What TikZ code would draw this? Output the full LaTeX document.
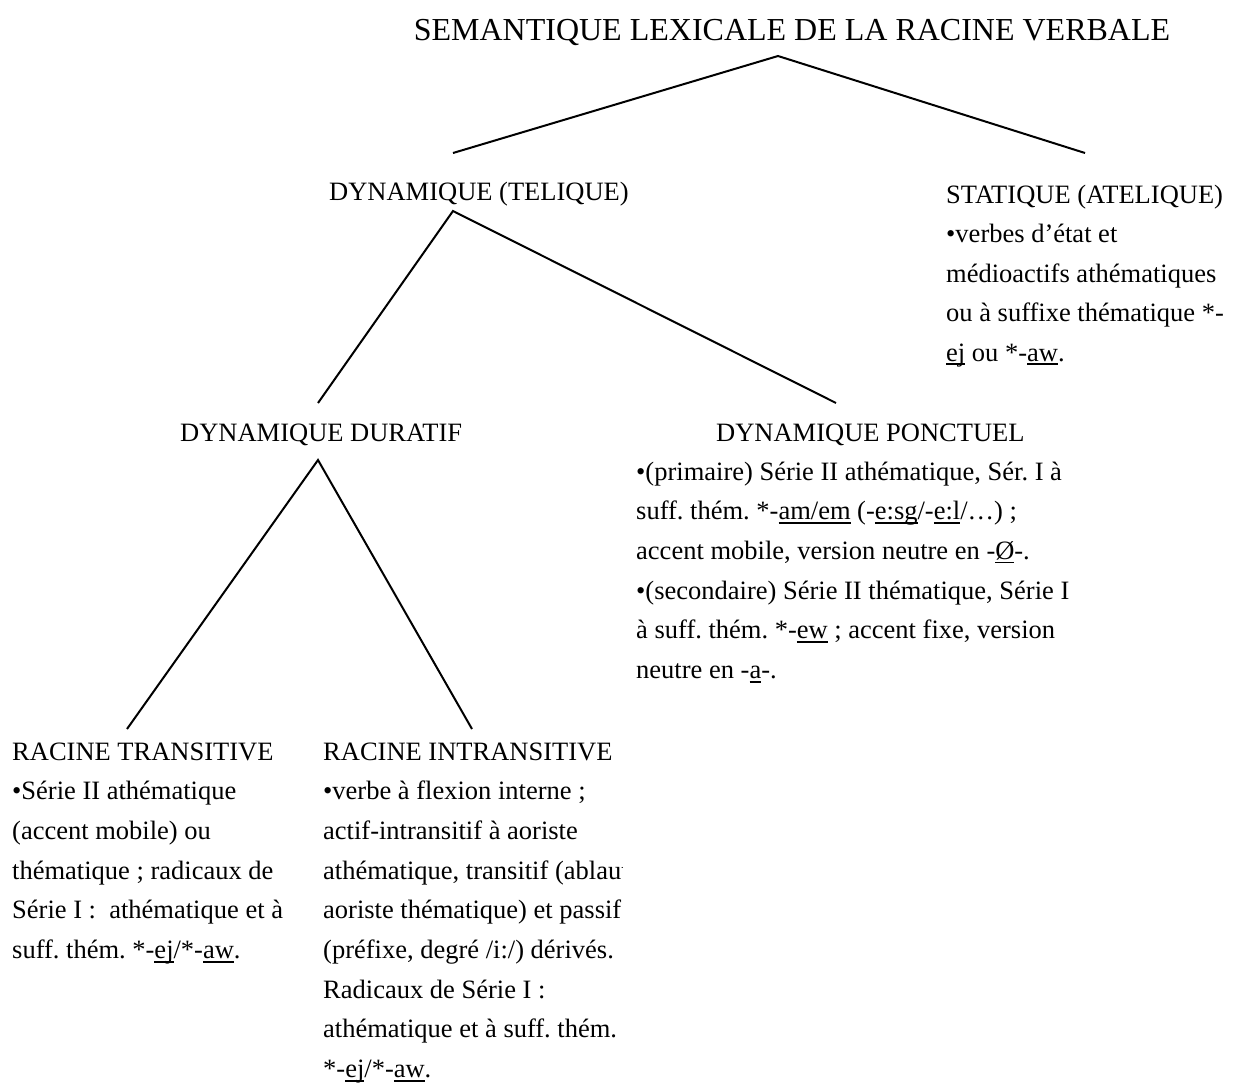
\documentclass[tikz,border=0pt]{standalone}
\usepackage{fontspec}
\setmainfont{Liberation Serif}
\newcommand\undl[1]{\setbox0=\hbox{#1}\rlap{\rule[-4pt]{\wd0}{1.6pt}}\box0\relax}
\tikzset{
  txt/.style={anchor=base west, inner sep=0pt, font=\fontsize{26.5}{39.7}\selectfont\frenchspacing},
  ttl/.style={anchor=base, inner sep=0pt, font=\fontsize{32}{38}\selectfont},
  branch/.style={line width=2pt}
}
\begin{document}
\begin{tikzpicture}[x=1pt,y=-1pt]
\useasboundingbox[fill=white] (0,0) rectangle (1238,1085);
% title
\node[ttl] (title) at (792,40) {SEMANTIQUE LEXICALE DE LA RACINE VERBALE};
% level 1
\node[txt] (dyn) at (329,200) {DYNAMIQUE (TELIQUE)};
\foreach \t [count=\i] in {{STATIQUE (ATELIQUE)},{•verbes d’état et},{médioactifs athématiques},{ou à suffixe thématique *-},{\undl{ej} ou *-\undl{aw}.}}
  \node[txt] (st\i) at (946,{203+(\i-1)*39.5}) {\t};
% level 2
\node[txt] (dur) at (180,441) {DYNAMIQUE DURATIF};
\node[txt] (ponc) at (716,441) {DYNAMIQUE PONCTUEL};
\foreach \t [count=\i] in {{•(primaire) Série II athématique, Sér. I à},{suff. thém. *-\undl{am/em} (-\undl{e:sg}/-\undl{e:l}/…) ;},{accent mobile, version neutre en -\undl{Ø}-.},{•(secondaire) Série II thématique, Série I},{à suff. thém. *-\undl{ew} ; accent fixe, version},{neutre en -\undl{a}-.}}
  \node[txt] (pc\i) at (636,{480+(\i-1)*39.7}) {\t};
% level 3
\foreach \t [count=\i] in {{RACINE TRANSITIVE},{•Série II athématique},{(accent mobile) ou},{thématique ; radicaux de},{Série I :\ \ athématique et à},{suff. thém. *-\undl{ej}/*-\undl{aw}.}}
  \node[txt] (tr\i) at (12,{760+(\i-1)*39.7}) {\t};
\begin{scope}
\clip (0,0) rectangle (622,1085);
\foreach \t [count=\i] in {{RACINE INTRANSITIVE},{•verbe à flexion interne ;},{actif-intransitif à aoriste},{athématique, transitif (ablaut},{aoriste thématique) et passif},{(préfixe, degré /i:/) dérivés.},{Radicaux de Série I :},{athématique et à suff. thém.},{*-\undl{ej}/*-\undl{aw}.}}
  \node[txt] (in\i) at (323,{760+(\i-1)*39.7}) {\t};
\end{scope}
% connector points
\coordinate (a0) at (778,56);
\coordinate (a1) at (453,153);
\coordinate (a2) at (1085,153);
\coordinate (b0) at (453,211);
\coordinate (b1) at (318,403);
\coordinate (b2) at (836,403);
\coordinate (c0) at (318,460);
\coordinate (c1) at (127,729);
\coordinate (c2) at (472,729);
\draw[branch] (a1) -- (a0) -- (a2);
\draw[branch] (b1) -- (b0) -- (b2);
\draw[branch] (c1) -- (c0) -- (c2);
\end{tikzpicture}
\end{document}
